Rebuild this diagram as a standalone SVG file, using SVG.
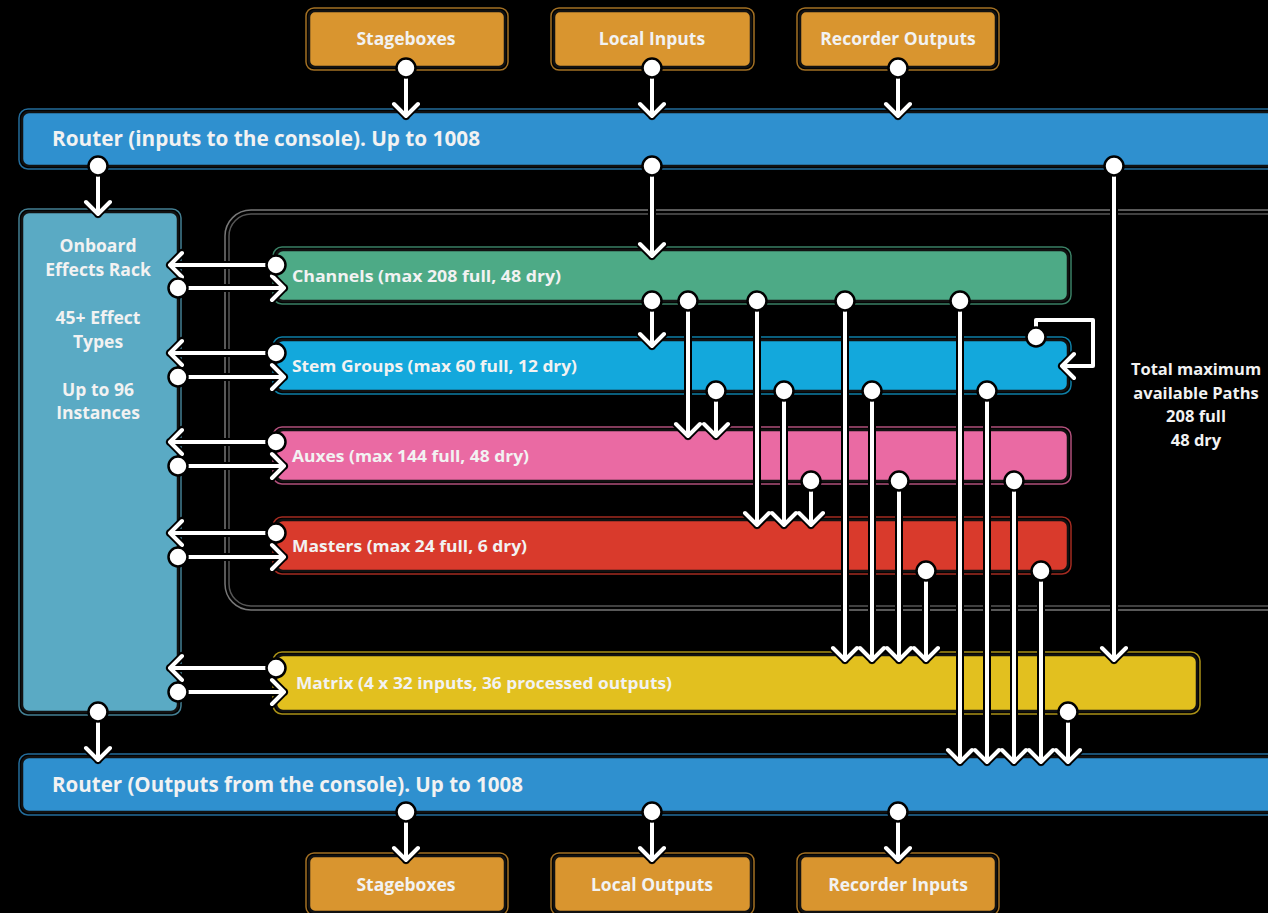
<svg xmlns="http://www.w3.org/2000/svg" width="1268" height="913" viewBox="0 0 1268 913">
<style>
text{font-family:"Open Sans","Noto Sans","Liberation Sans",sans-serif;font-weight:700;fill:#f2f2f2}
.rim{fill:none;stroke-width:1.5;stroke-opacity:0.75}
.box{stroke:#111;stroke-width:2.5}
.t20{font-size:20.5px}
.t16{font-size:16.5px}
.t17{font-size:17.5px}
.mid{text-anchor:middle}
.o{fill:none;stroke:#000;stroke-width:8;stroke-linecap:round;stroke-linejoin:round}
.w{fill:none;stroke:#fff;stroke-width:4;stroke-linecap:round;stroke-linejoin:round}
.dot{fill:#fff;stroke:#000;stroke-width:2.5}
</style>
<rect width="1268" height="913" fill="#000"/>

<g id="container">
  <rect x="225" y="210" width="1080" height="400" rx="26" fill="none" stroke="#777" stroke-width="1.5"/>
  <rect x="229" y="214" width="1072" height="392" rx="22" fill="none" stroke="#555" stroke-width="1.5"/>
</g>

<g id="in-stageboxes">
  <rect class="rim" x="306" y="8" width="202" height="62" rx="8" stroke="#d9952f"/>
  <rect class="box" x="309" y="11" width="196" height="56" rx="6" fill="#d9952f"/>
  <text class="t17 mid" x="406" y="45">Stageboxes</text>
</g>
<g id="in-local">
  <rect class="rim" x="551" y="8" width="203" height="62" rx="8" stroke="#d9952f"/>
  <rect class="box" x="554" y="11" width="197" height="56" rx="6" fill="#d9952f"/>
  <text class="t17 mid" x="652" y="45">Local Inputs</text>
</g>
<g id="in-recorder">
  <rect class="rim" x="797" y="8" width="202" height="62" rx="8" stroke="#d9952f"/>
  <rect class="box" x="800" y="11" width="196" height="56" rx="6" fill="#d9952f"/>
  <text class="t17 mid" x="898" y="45">Recorder Outputs</text>
</g>

<g id="router-in">
  <rect class="rim" x="19" y="109" width="1270" height="60" rx="9" stroke="#2f90cf"/>
  <rect class="box" x="22" y="112" width="1264" height="54" rx="7" fill="#2f90cf"/>
  <text class="t20" x="52" y="146" textLength="428" lengthAdjust="spacingAndGlyphs">Router (inputs to the console). Up to 1008</text>
</g>

<g id="effects">
  <rect class="rim" x="19" y="209" width="162" height="506" rx="9" stroke="#5aaac4"/>
  <rect class="box" x="22" y="212" width="156" height="500" rx="7" fill="#5aaac4"/>
  <text class="t17 mid" x="98" y="252">Onboard</text>
  <text class="t17 mid" x="98" y="276">Effects Rack</text>
  <text class="t17 mid" x="98" y="324">45+ Effect</text>
  <text class="t17 mid" x="98" y="348">Types</text>
  <text class="t17 mid" x="98" y="396">Up to 96</text>
  <text class="t17 mid" x="98" y="419">Instances</text>
</g>

<g id="channels">
  <rect class="rim" x="273" y="247" width="798" height="57" rx="9" stroke="#4daa86"/>
  <rect class="box" x="276" y="250" width="792" height="51" rx="7" fill="#4daa86"/>
  <text class="t16" x="292" y="282" textLength="269" lengthAdjust="spacingAndGlyphs">Channels (max 208 full, 48 dry)</text>
</g>
<g id="stems">
  <rect class="rim" x="273" y="337" width="798" height="57" rx="9" stroke="#13a8dc"/>
  <rect class="box" x="276" y="340" width="792" height="51" rx="7" fill="#13a8dc"/>
  <text class="t16" x="292" y="372" textLength="285" lengthAdjust="spacingAndGlyphs">Stem Groups (max 60 full, 12 dry)</text>
</g>
<g id="auxes">
  <rect class="rim" x="273" y="427" width="798" height="57" rx="9" stroke="#ea6aa3"/>
  <rect class="box" x="276" y="430" width="792" height="51" rx="7" fill="#ea6aa3"/>
  <text class="t16" x="292" y="462" textLength="237" lengthAdjust="spacingAndGlyphs">Auxes (max 144 full, 48 dry)</text>
</g>
<g id="masters">
  <rect class="rim" x="273" y="517" width="798" height="57" rx="9" stroke="#d93a2c"/>
  <rect class="box" x="276" y="520" width="792" height="51" rx="7" fill="#d93a2c"/>
  <text class="t16" x="292" y="552" textLength="235" lengthAdjust="spacingAndGlyphs">Masters (max 24 full, 6 dry)</text>
</g>
<g id="matrix">
  <rect class="rim" x="273" y="652" width="927" height="62" rx="9" stroke="#e2c01f"/>
  <rect class="box" x="276" y="655" width="921" height="56" rx="7" fill="#e2c01f"/>
  <text class="t16" x="296" y="689" textLength="376" lengthAdjust="spacingAndGlyphs">Matrix (4 x 32 inputs, 36 processed outputs)</text>
</g>

<g id="paths-note">
  <text class="t16 mid" x="1196" y="375">Total maximum</text>
  <text class="t16 mid" x="1196" y="399">available Paths</text>
  <text class="t16 mid" x="1196" y="422">208 full</text>
  <text class="t16 mid" x="1196" y="446">48 dry</text>
</g>

<g id="router-out">
  <rect class="rim" x="19" y="754" width="1270" height="61" rx="9" stroke="#2f90cf"/>
  <rect class="box" x="22" y="757" width="1264" height="55" rx="7" fill="#2f90cf"/>
  <text class="t20" x="52" y="792" textLength="471" lengthAdjust="spacingAndGlyphs">Router (Outputs from the console). Up to 1008</text>
</g>

<g id="out-stageboxes">
  <rect class="rim" x="306" y="853" width="202" height="62" rx="8" stroke="#d9952f"/>
  <rect class="box" x="309" y="856" width="196" height="56" rx="6" fill="#d9952f"/>
  <text class="t17 mid" x="406" y="891">Stageboxes</text>
</g>
<g id="out-local">
  <rect class="rim" x="551" y="853" width="203" height="62" rx="8" stroke="#d9952f"/>
  <rect class="box" x="554" y="856" width="197" height="56" rx="6" fill="#d9952f"/>
  <text class="t17 mid" x="652" y="891">Local Outputs</text>
</g>
<g id="out-recorder">
  <rect class="rim" x="797" y="853" width="202" height="62" rx="8" stroke="#d9952f"/>
  <rect class="box" x="800" y="856" width="196" height="56" rx="6" fill="#d9952f"/>
  <text class="t17 mid" x="898" y="891">Recorder Inputs</text>
</g>

<defs>
  <path id="conn" d="
M406,68V116M394,104L406,116L418,104
M652,68V116M640,104L652,116L664,104
M898,68V116M886,104L898,116L910,104
M98,166V214M86,202L98,214L110,202
M652,166V256M640,244L652,256L664,244
M1114,166V660M1102,648L1114,660L1126,648
M652,301V346M640,334L652,346L664,334
M688,301V436M676,424L688,436L700,424
M757,301V525M745,513L757,525L769,513
M845,301V660M833,648L845,660L857,648
M960,301V762M948,750L960,762L972,750
M716,391V436M704,424L716,436L728,424
M784,391V525M772,513L784,525L796,513
M872,391V660M860,648L872,660L884,648
M987,391V762M975,750L987,762L999,750
M811,481V525M799,513L811,525L823,513
M899,481V660M887,648L899,660L911,648
M1014,481V762M1002,750L1014,762L1026,750
M926,571V660M914,648L926,660L938,648
M1041,571V762M1029,750L1041,762L1053,750
M1068,712V762M1056,750L1068,762L1080,750
M98,712V760M86,748L98,760L110,748
M406,812V860M394,848L406,860L418,848
M652,812V860M640,848L652,860L664,848
M898,812V860M886,848L898,860L910,848
M276,265H170M182,253L170,265L182,277
M178,288H284M272,276L284,288L272,300
M276,353H170M182,341L170,353L182,365
M178,377H284M272,365L284,377L272,389
M276,442H170M182,430L170,442L182,454
M178,466H284M272,454L284,466L272,478
M276,533H170M182,521L170,533L182,545
M178,557H284M272,545L284,557L272,569
M276,668H170M182,656L170,668L182,680
M178,692H284M272,680L284,692L272,704
M1036,337V320H1093V366H1062M1074,354L1062,366L1074,378"/>
</defs>

<g id="connectors">
  <use href="#conn" class="o"/>
  <use href="#conn" class="w"/>
  <g class="dots">
    <circle class="dot" cx="406" cy="68" r="9.5"/>
    <circle class="dot" cx="652" cy="68" r="9.5"/>
    <circle class="dot" cx="898" cy="68" r="9.5"/>
    <circle class="dot" cx="98" cy="166" r="9.5"/>
    <circle class="dot" cx="652" cy="166" r="9.5"/>
    <circle class="dot" cx="1114" cy="166" r="9.5"/>
    <circle class="dot" cx="652" cy="301" r="9.5"/>
    <circle class="dot" cx="688" cy="301" r="9.5"/>
    <circle class="dot" cx="757" cy="301" r="9.5"/>
    <circle class="dot" cx="845" cy="301" r="9.5"/>
    <circle class="dot" cx="960" cy="301" r="9.5"/>
    <circle class="dot" cx="716" cy="391" r="9.5"/>
    <circle class="dot" cx="784" cy="391" r="9.5"/>
    <circle class="dot" cx="872" cy="391" r="9.5"/>
    <circle class="dot" cx="987" cy="391" r="9.5"/>
    <circle class="dot" cx="811" cy="481" r="9.5"/>
    <circle class="dot" cx="899" cy="481" r="9.5"/>
    <circle class="dot" cx="1014" cy="481" r="9.5"/>
    <circle class="dot" cx="926" cy="571" r="9.5"/>
    <circle class="dot" cx="1041" cy="571" r="9.5"/>
    <circle class="dot" cx="1068" cy="712" r="9.5"/>
    <circle class="dot" cx="98" cy="712" r="9.5"/>
    <circle class="dot" cx="406" cy="812" r="9.5"/>
    <circle class="dot" cx="652" cy="812" r="9.5"/>
    <circle class="dot" cx="898" cy="812" r="9.5"/>
    <circle class="dot" cx="276" cy="265" r="9.5"/>
    <circle class="dot" cx="178" cy="288" r="9.5"/>
    <circle class="dot" cx="276" cy="353" r="9.5"/>
    <circle class="dot" cx="178" cy="377" r="9.5"/>
    <circle class="dot" cx="276" cy="442" r="9.5"/>
    <circle class="dot" cx="178" cy="466" r="9.5"/>
    <circle class="dot" cx="276" cy="533" r="9.5"/>
    <circle class="dot" cx="178" cy="557" r="9.5"/>
    <circle class="dot" cx="276" cy="668" r="9.5"/>
    <circle class="dot" cx="178" cy="692" r="9.5"/>
    <circle class="dot" cx="1036" cy="337" r="9.5"/>
  </g>
</g>
</svg>
